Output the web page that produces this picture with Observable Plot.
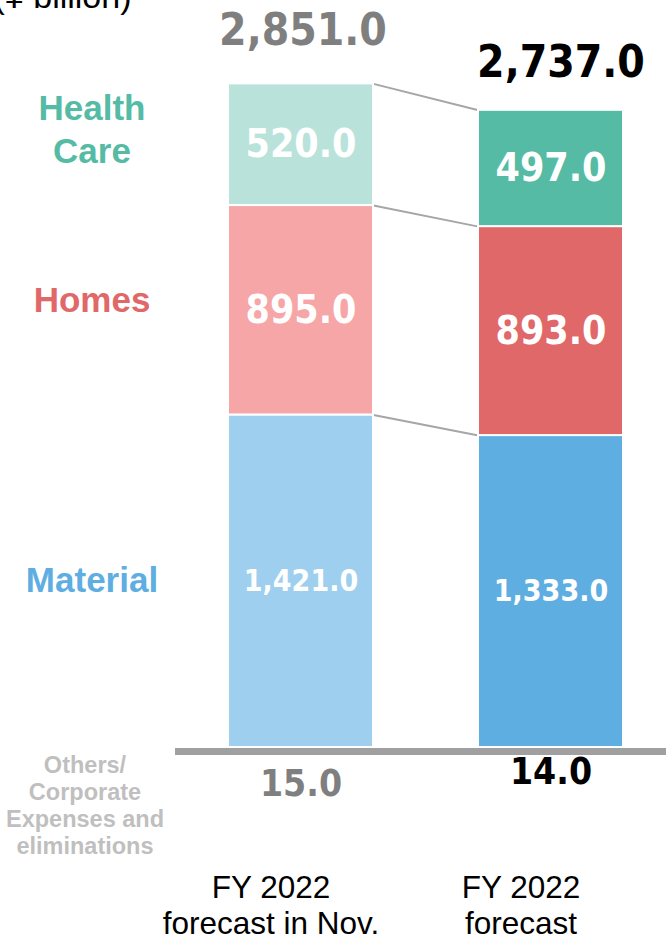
<!DOCTYPE html>
<html>
<head>
<meta charset="utf-8">
<script src="https://cdn.jsdelivr.net/npm/d3@7"></script>
<script src="https://cdn.jsdelivr.net/npm/@observablehq/plot@0.6"></script>
<style>
  html, body { margin: 0; padding: 0; background: #fff; }
  #chart svg { display: block; }
</style>
</head>
<body>
<div id="chart"></div>
<script>
// ---- data ----
const periods = ["FY 2022 forecast in Nov.", "FY 2022 forecast"];
const periodLabels = ["FY 2022\nforecast in Nov.", "FY 2022\nforecast"];
const segments = ["Material", "Homes", "Health Care"];
const segmentLabels = ["Material", "Homes", "Health\nCare"];
const novForecast = [1421.0, 895.0, 520.0];
const currentForecast = [1333.0, 893.0, 497.0];
const others = [15.0, 14.0];
const totals = [2851.0, 2737.0];
const othersLabel = "Others/\nCorporate\nExpenses and\neliminations";
const unitLabel = "(¥ billion)";

// ---- styles ----
const barColors = {
  "Material": ["#9ecfee", "#5eaee2"],
  "Homes": ["#f6a6a6", "#e06868"],
  "Health Care": ["#b9e3da", "#55bba5"]
};
const labelColors = {"Material": "#5eaee2", "Homes": "#e06868", "Health Care": "#55bba5"};
const labelNudge = {"Material": -3, "Homes": -12, "Health Care": -17};
const numFont = "'DejaVu Sans Condensed', 'DejaVu Sans', Verdana, sans-serif";
const txtFont = "'Liberation Sans', Arial, Helvetica, sans-serif";
const emphasis = ["#7f7f7f", "#000000"];
const fmt = d3.format(",.1f");

const series = [novForecast, currentForecast];
const rows = periods.flatMap((p, i) => segments.map((s, j) => ({
  period: p, i, segment: s, value: series[i][j],
  fill: barColors[s][i]
})));
const bounds = segments.map((s, j) => ({
  y1: d3.sum(novForecast.slice(0, j + 1)),
  y2: d3.sum(currentForecast.slice(0, j + 1))
}));
const tops = periods.map((p, i) => ({period: p, i, top: d3.sum(series[i]), total: totals[i], other: others[i]}));

const edgeLinks = (index, scales, values, dims, ctx, next) => {
  const bw = scales.x.bandwidth ? scales.x.bandwidth() : 0;
  const v = Object.assign({}, values, {
    x1: Float64Array.from(values.x1, d => d + bw / 2),
    x2: Float64Array.from(values.x2, d => d - bw / 2)
  });
  return next(index, scales, v, dims, ctx);
};

const marks = [
  Plot.link(bounds, {
    x1: () => periods[0], x2: () => periods[1], y1: "y1", y2: "y2",
    stroke: "#a6a6a6", strokeWidth: 2, render: edgeLinks
  }),
  Plot.barY(rows, {x: "period", y: "value", fill: "fill", stroke: "white", strokeWidth: 2}),
  Plot.ruleY([0], {stroke: "#a0a0a0", strokeWidth: 7, dy: 4}),
  Plot.text(rows, Plot.stackY({
    x: "period", y: "value", text: d => fmt(d.value),
    fill: "white", fontFamily: numFont, fontWeight: "bold",
    fontSize: d => d.segment === "Material" ? 30 : 39
  })),
  ...segments.map((s, j) => Plot.text(
    rows.filter(d => d.i === 0),
    Plot.stackY({
      x: "period", y: "value",
      text: d => d.segment === s ? segmentLabels[j] : "",
      fill: labelColors[s], fontFamily: txtFont, fontWeight: "bold",
      fontSize: 35, lineHeight: 1.23, dx: -209, dy: labelNudge[s]
    })
  )),
  Plot.text(tops.filter(d => d.i === 0), {x: "period", y: "top", text: d => fmt(d.total),
    fill: emphasis[0], fontFamily: numFont, fontWeight: "bold", fontSize: 44, dy: -53, dx: 2}),
  Plot.text(tops.filter(d => d.i === 1), {x: "period", y: "top", text: d => fmt(d.total),
    fill: emphasis[1], fontFamily: numFont, fontWeight: "bold", fontSize: 44, dy: -47, dx: 10}),
  Plot.text(tops.filter(d => d.i === 0), {x: "period", y: () => 0, text: d => fmt(d.other),
    fill: emphasis[0], fontFamily: numFont, fontWeight: "bold", fontSize: 37, dy: 37}),
  Plot.text(tops.filter(d => d.i === 1), {x: "period", y: () => 0, text: d => fmt(d.other),
    fill: emphasis[1], fontFamily: numFont, fontWeight: "bold", fontSize: 37, dy: 25}),
  Plot.text([othersLabel], {x: () => periods[0], y: () => 0, text: d => d,
    fill: "#bfbfbf", fontFamily: txtFont, fontWeight: "bold", fontSize: 23.5,
    lineHeight: 1.15, lineAnchor: "top", dx: -216, dy: 6}),
  Plot.text(periods, {x: d => d, y: () => 0, text: (d, i) => periodLabels[i],
    fill: "#000", fontFamily: txtFont, fontSize: 31.5, lineHeight: 1.15,
    lineAnchor: "top", dx: -30, dy: 125}),
  Plot.text([unitLabel], {frameAnchor: "top-left", text: d => d, textAnchor: "end",
    lineAnchor: "middle", fill: "#000", fontFamily: txtFont, fontSize: 34, dx: -44, dy: -3})
];

const chart = Plot.plot({
  width: 666,
  height: 938,
  marginTop: 0, marginBottom: 0, marginLeft: 175, marginRight: 0,
  style: {background: "#fff", overflow: "visible"},
  x: {domain: periods, paddingInner: 0.42, paddingOuter: 0.192, align: 0.552, axis: null},
  y: {domain: [0, 3000], range: [747, 45], axis: null},
  color: {type: "identity"},
  marks
});
document.getElementById("chart").appendChild(chart);
</script>
</body>
</html>
